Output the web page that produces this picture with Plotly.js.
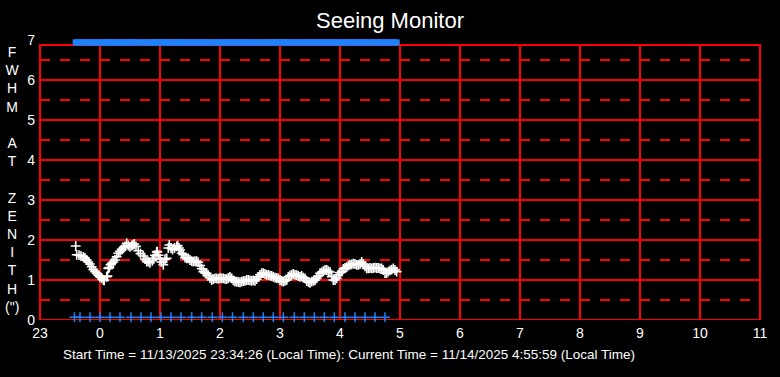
<!DOCTYPE html>
<html>
<head>
<meta charset="utf-8">
<script src="https://cdn.plot.ly/plotly-3.0.1.min.js"></script>
<style>html,body{margin:0;padding:0;background:#000;}#chart{width:780px;height:377px;}</style>
</head>
<body>
<div id="chart"></div>
<script>
// Time axis: minutes relative to local midnight (negative = before midnight, 23:00 = -60)
const hourTickVals = [-60, 0, 60, 120, 180, 240, 300, 360, 420, 480, 540, 600, 660];
const hourTickText = ['23', '0', '1', '2', '3', '4', '5', '6', '7', '8', '9', '10', '11'];
const fwhmTickVals = [0, 1, 2, 3, 4, 5, 6, 7];

// Seeing measurements (minutes after midnight, FWHM arcsec)
const seeingMin = [-24.3,-23.3,-21,-19,-16.7,-15,-13.3,-11.7,-10,-8.3,-6.7,-5,-3.3,-1.7,0,1.7,3.3,4.3,6.7,7.5,8.3,9.3,10.5,11.7,13.3,15,16.7,18.3,20,21.7,23.3,25,26.7,28.3,30,31.7,33,34.3,36,38.3,40.5,43.3,45,46.7,48.3,50,52.3,53.3,55,56.7,57.3,58.5,60,61.5,63.3,65,66.7,68.3,69.3,71,72.5,74.5,76.7,77.7,79,80,81.7,83.3,85,86.7,88.3,90,91.7,93.3,95,96.7,98.3,100,101.7,103.3,105,106.7,108.3,110,111.7,113.3,115,116.7,118.3,120,121.7,123.3,125,126.7,128.3,130,131.7,133.3,135,136.7,138.3,140,141.7,143.3,145,146.7,148.3,150,151.7,153.3,155,156.7,158.3,160,161.7,163.3,165,166.7,168.3,170,171.7,173.3,175,176.7,178.3,180,181.7,183.3,185,186.7,188.3,190,191.7,193.3,195,196.7,198.3,200,201.7,203.3,205,206.7,208.5,210,211.7,213.5,215,216.7,218.3,220,221.7,223.3,225,226.7,228.3,230,231.7,233.3,235,236.7,238.3,240,241.7,243.3,245,246.7,248.3,250,251.7,253.3,255,256.7,258.3,260,261.7,263.3,265,266.7,268.3,270,271.7,273.3,275,276.7,278.3,280,281.7,283.3,285,286.7,288.3,290,291.7,293.3,295,296.7];
const seeingFwhm = [1.85,1.63,1.62,1.60,1.58,1.55,1.50,1.45,1.40,1.33,1.26,1.21,1.17,1.12,1.08,1.05,1.00,0.99,1.08,1.10,1.29,1.31,1.38,1.42,1.45,1.50,1.58,1.67,1.72,1.76,1.80,1.84,1.92,1.86,1.83,1.86,1.88,1.90,1.84,1.73,1.66,1.60,1.52,1.46,1.46,1.43,1.48,1.54,1.62,1.70,1.71,1.62,1.52,1.45,1.38,1.52,1.54,1.80,1.875,1.80,1.76,1.80,1.84,1.86,1.80,1.75,1.67,1.63,1.56,1.54,1.54,1.50,1.47,1.46,1.47,1.47,1.44,1.36,1.28,1.21,1.18,1.17,1.12,1.05,1.00,1.02,1.04,1.04,1.03,1.05,1.04,1.04,1.03,1.02,1.05,1.08,1.04,0.99,0.96,0.96,0.95,0.94,0.96,0.97,0.98,1.00,1.00,0.99,0.98,0.99,0.98,1.02,1.08,1.13,1.17,1.17,1.15,1.13,1.13,1.11,1.10,1.08,1.06,1.05,1.04,1.00,0.98,0.96,0.98,1.00,1.08,1.11,1.13,1.15,1.13,1.12,1.10,1.08,1.10,1.06,1.04,0.97,0.95,0.93,0.96,0.98,1.00,1.04,1.10,1.17,1.19,1.22,1.25,1.25,1.22,1.20,1.08,1.00,1.00,1.04,1.13,1.18,1.21,1.28,1.30,1.32,1.36,1.38,1.39,1.41,1.40,1.38,1.38,1.40,1.45,1.40,1.34,1.29,1.29,1.30,1.29,1.30,1.31,1.30,1.30,1.29,1.29,1.25,1.17,1.17,1.21,1.24,1.26,1.29,1.25,1.21];

// Top flag row (one flag per measurement, drawn at the top of the scale)
const topFlagLevel = 6.94;

// Bottom flag markers (minutes after midnight)
const bottomFlagMin = [-25.6,-20,-10,0,10,20,31,41,51,61,71,81,91.7,101.7,112.3,122.3,132.5,143.3,153.3,163.3,173.3,183.3,194.3,204.3,214.3,224.3,234.3,245,255,265,275,285];
const bottomFlagLevel = 0.07;

const RED = '#ff0000';
const BLUE = '#1e82ff';
const FONT = 'Liberation Sans, Arial, sans-serif';
const frameTop = 6.875;

const shapes = [];
// vertical solid grid lines
for (let i = 1; i < hourTickVals.length - 1; i++) {
  shapes.push({type:'line', xref:'x', yref:'y', x0:hourTickVals[i], x1:hourTickVals[i], y0:0, y1:frameTop, line:{color:RED, width:2}, layer:'below'});
}
// horizontal solid / dashed grid lines
for (let v = 1; v <= 6; v++) {
  shapes.push({type:'line', xref:'paper', yref:'y', x0:0, x1:1, y0:v, y1:v, line:{color:RED, width:2}, layer:'below'});
}
for (let v = 0.5; v <= 6.5; v += 1) {
  shapes.push({type:'line', xref:'paper', yref:'y', x0:0, x1:1, y0:v, y1:v, line:{color:RED, width:2, dash:'10px,10px'}, layer:'below'});
}
// frame
shapes.push({type:'rect', xref:'paper', yref:'y', x0:0, x1:1, y0:0, y1:frameTop, line:{color:RED, width:2}, layer:'below'});

const traces = [
  {
    x: seeingMin, y: seeingMin.map(() => topFlagLevel), type:'scatter', mode:'markers',
    marker:{symbol:'square', size:6, color:BLUE, line:{width:0}}, cliponaxis:false, hoverinfo:'skip'
  },
  {
    x: bottomFlagMin, y: bottomFlagMin.map(() => bottomFlagLevel), type:'scatter', mode:'markers',
    marker:{symbol:'cross-thin-open', size:7, color:BLUE, line:{color:BLUE, width:1.5}}, cliponaxis:false
  },
  {
    x: seeingMin, y: seeingFwhm, type:'scatter', mode:'markers',
    marker:{symbol:'cross-thin-open', size:7, color:'#ffffff', line:{color:'#ffffff', width:1.6}}, cliponaxis:false
  }
];

const layout = {
  width:780, height:377,
  paper_bgcolor:'#000000', plot_bgcolor:'#000000',
  margin:{l:40, r:20, t:40, b:57},
  showlegend:false,
  font:{family:FONT, color:'#ffffff'},
  title:{text:'Seeing Monitor', font:{family:FONT, size:22, color:'#ffffff'}, x:0.5, xref:'container', y:0.947, yref:'container', yanchor:'middle'},
  xaxis:{range:[-60,660], tickmode:'array', tickvals:hourTickVals, ticktext:hourTickText, showgrid:false, zeroline:false, showline:false, ticks:'', ticklabelstandoff:3, tickfont:{family:FONT, size:14, color:'#ffffff'}},
  yaxis:{range:[0,7], tickmode:'array', tickvals:fwhmTickVals, showgrid:false, zeroline:false, showline:false, ticks:'', ticklabelstandoff:4, tickfont:{family:FONT, size:14, color:'#ffffff'}},
  shapes: shapes,
  annotations:[
    {text:'F<br>W<br>H<br>M<br>\u00a0<br>A<br>T<br>\u00a0<br>Z<br>E<br>N<br>I<br>T<br>H<br>(")', xref:'paper', yref:'paper', x:(12-40)/720, y:(320-179)/280, xanchor:'center', yanchor:'middle', showarrow:false, align:'center', font:{family:FONT, size:14, color:'#ffffff'}},
    {text:'Start Time = 11/13/2025 23:34:26 (Local Time): Current Time = 11/14/2025 4:55:59 (Local Time)', xref:'paper', yref:'paper', x:(349-40)/720, y:(320-354)/280, xanchor:'center', yanchor:'middle', showarrow:false, font:{family:FONT, size:13.5, color:'#ffffff'}}
  ]
};

Plotly.newPlot('chart', traces, layout, {displayModeBar:false, staticPlot:true});
</script>
</body>
</html>
